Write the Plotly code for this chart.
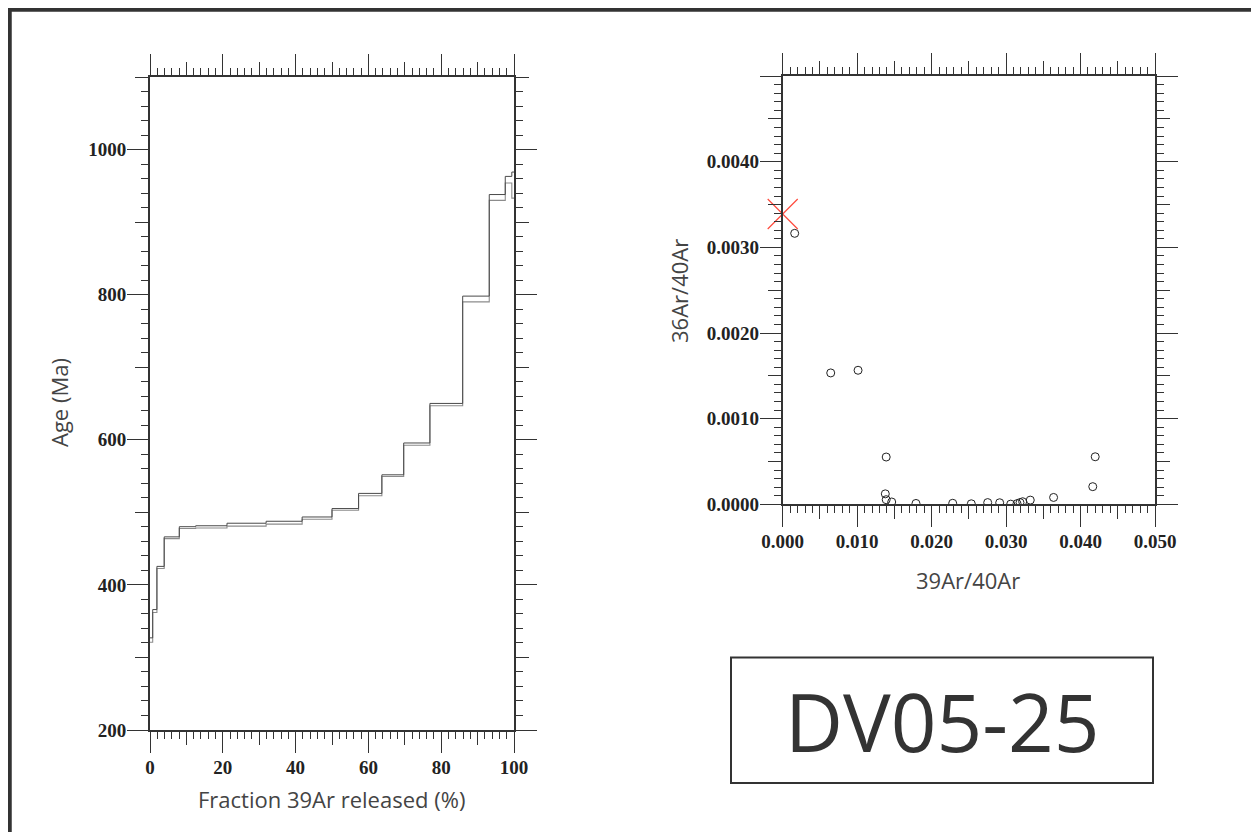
import plotly.graph_objects as go

W, H = 1259, 832
OX, OY = 8, 8  # page body offset of the figure div

# ---------------- Age spectrum data ----------------
step_bounds = [0, 0.74, 1.9, 3.9, 8.05, 12.55, 21.15, 31.9, 41.8, 50.0, 57.3,
               63.7, 69.7, 76.9, 85.9, 93.2, 97.6, 99.4, 100]
step_age = [324, 364, 424, 465, 479, 480, 483, 485.7, 492, 504, 524.5,
            550.5, 594, 648.5, 794, 934, 958.5, 951]
step_err = [3, 2, 1.5, 1.2, 1.2, 1.5, 2, 2, 1.6, 1.2, 1.6,
            1.2, 1.6, 1.6, 4, 4, 4.5, 18]

# ---------------- Isochron data ----------------
iso_x = [0.00161, 0.00645, 0.01012, 0.0139, 0.01378, 0.0139, 0.01464, 0.0179,
         0.02283, 0.02533, 0.02753, 0.02914, 0.03062, 0.03147, 0.03187,
         0.03223, 0.03325, 0.03638, 0.04164, 0.04197]
iso_y = [0.003164, 0.001534, 0.001565, 0.000552, 0.000122, 0.000054, 0.000027,
         0.000010, 0.000012, 0.000006, 0.000020, 0.000018, 0.000002, 0.000008,
         0.000020, 0.000030, 0.000049, 0.000080, 0.000206, 0.000555]
intercept_x = [0.0]
intercept_y = [0.00339]

sample_name = "DV05-25"

upper = [a + e for a, e in zip(step_age, step_err)]
lower = [a - e for a, e in zip(step_age, step_err)]
upper = upper + [upper[-1]]
lower = lower + [lower[-1]]

fig = go.Figure()
fig.add_trace(go.Scatter(x=step_bounds, y=lower, mode="lines", line_shape="hv",
                         line=dict(color="#8c8c8c", width=1.1),
                         xaxis="x", yaxis="y", showlegend=False, hoverinfo="skip"))
fig.add_trace(go.Scatter(x=step_bounds, y=upper, mode="lines", line_shape="hv",
                         line=dict(color="#4a4a4a", width=1.0),
                         xaxis="x", yaxis="y", showlegend=False, hoverinfo="skip"))

fig.add_trace(go.Scatter(x=iso_x, y=iso_y, mode="markers",
                         marker=dict(symbol="circle-open", size=8, color="#222",
                                     line=dict(width=1, color="#222")),
                         xaxis="x2", yaxis="y2", showlegend=False))
fig.add_trace(go.Scatter(x=intercept_x, y=intercept_y, mode="markers",
                         marker=dict(symbol="x-thin-open", size=30, color="#ff4a3d",
                                     line=dict(width=1.2, color="#ff4a3d")),
                         xaxis="x2", yaxis="y2", showlegend=False, cliponaxis=False))

# empty traces to activate overlay axes (medium tick levels)
fig.add_trace(go.Scatter(x=[], y=[], xaxis="x3", yaxis="y3", showlegend=False))
fig.add_trace(go.Scatter(x=[], y=[], xaxis="x4", yaxis="y4", showlegend=False))

AX = "#333333"
tickfont = dict(family="Liberation Serif", size=19, color="#222", weight="bold")
titlefont = dict(family="Open Sans", size=22, color="#444")


def px_x(p):
    return (p - OX) / W


def px_y(p):
    return 1 - (p - OY) / H


L_dom_x = [px_x(150), px_x(514)]
L_dom_y = [px_y(730), px_y(77)]
R_dom_x = [px_x(782.7), px_x(1155)]
R_dom_y = [px_y(504.3), px_y(76.1)]


def main_axis(domain, rng, tick0, dtick, minor_dtick, anchor, **kw):
    d = dict(domain=domain, range=rng, tickmode="linear", tick0=tick0, dtick=dtick,
             ticks="outside", ticklen=21, tickwidth=1.3, tickcolor=AX,
             showline=True, linecolor=AX, linewidth=1.7, mirror="ticks",
             showgrid=False, zeroline=False, anchor=anchor, tickfont=tickfont,
             automargin=False,
             minor=dict(tick0=tick0, dtick=minor_dtick, ticks="outside", ticklen=7,
                        tickwidth=1.1, tickcolor=AX, showgrid=False),
             fixedrange=True)
    d.update(kw)
    return d


def mid_axis(domain, rng, tick0, dtick, anchor, overlaying):
    return dict(domain=domain, range=rng, tickmode="linear", tick0=tick0, dtick=dtick,
                ticks="outside", ticklen=14, tickwidth=1.2, tickcolor=AX,
                showline=False, mirror="ticks", showgrid=False, zeroline=False,
                showticklabels=False, anchor=anchor, overlaying=overlaying,
                automargin=False, fixedrange=True)


fig.update_layout(
    template="none",
    width=W, height=H,
    margin=dict(l=0, r=0, t=0, b=0, pad=0),
    paper_bgcolor="white", plot_bgcolor="white",
    showlegend=False,
    xaxis=main_axis(L_dom_x, [0, 100], 0, 20, 2, "y", ticklabelstandoff=-2),
    yaxis=main_axis(L_dom_y, [200, 1100], 200, 200, 20, "x", ticklabelstandoff=-3),
    xaxis3=mid_axis(L_dom_x, [0, 100], 0, 10, "y3", "x"),
    yaxis3=mid_axis(L_dom_y, [200, 1100], 200, 100, "x3", "y"),
    xaxis2=main_axis(R_dom_x, [0, 0.05], 0, 0.01, 0.001, "y2", tickformat=".3f",
                     ticklabelstandoff=-2),
    yaxis2=main_axis(R_dom_y, [0, 0.005], 0, 0.001, 0.0001, "x2",
                     tickmode="array",
                     tickvals=[0, 0.001, 0.002, 0.003, 0.004, 0.005],
                     ticktext=["0.0000", "0.0010", "0.0020", "0.0030", "0.0040", ""],
                     ticklabelstandoff=-3),
    xaxis4=mid_axis(R_dom_x, [0, 0.05], 0, 0.005, "y4", "x2"),
    yaxis4=mid_axis(R_dom_y, [0, 0.005], 0, 0.0005, "x4", "y2"),
)

annotations = [
    dict(text="Age (Ma)", x=px_x(59), y=px_y(403), textangle=-90),
    dict(text="Fraction 39Ar released (%)", x=px_x(332), y=px_y(799)),
    dict(text="36Ar/40Ar", x=px_x(679), y=px_y(291), textangle=-90),
    dict(text="39Ar/40Ar", x=px_x(968), y=px_y(580)),
]
for a in annotations:
    a.update(xref="paper", yref="paper", showarrow=False, font=titlefont,
             xanchor="center", yanchor="middle")
annotations.append(dict(text=sample_name, x=px_x(942), y=px_y(720), xref="paper",
                        yref="paper", showarrow=False, xanchor="center",
                        yanchor="middle",
                        font=dict(family="Open Sans", size=80, color="#333")))
fig.update_layout(annotations=annotations)

fig.update_layout(shapes=[
    dict(type="rect", xref="paper", yref="paper",
         x0=px_x(731), x1=px_x(1153), y0=px_y(783), y1=px_y(657.5),
         line=dict(color="#333", width=2)),
    dict(type="rect", xref="paper", yref="paper",
         x0=px_x(9.5), x1=1.2, y0=-0.2, y1=px_y(9.5),
         line=dict(color="#333", width=4.5)),
])

fig.write_html("out.html")
